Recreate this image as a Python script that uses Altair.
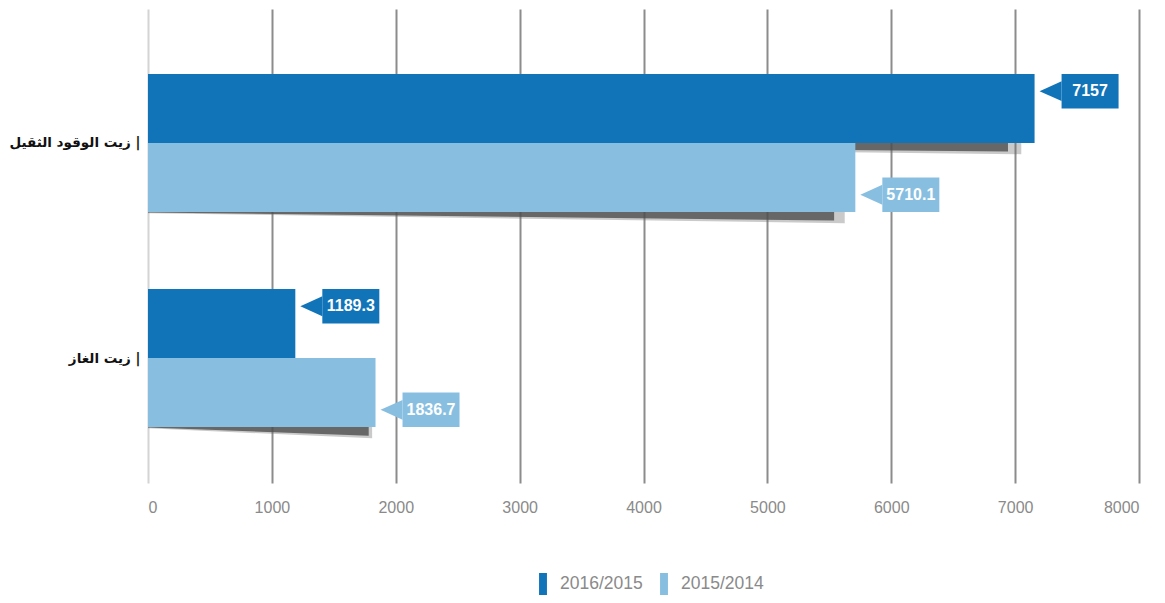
import altair as alt
import pandas as pd

categories = ["زيت الوقود الثقيل", "زيت الغاز"]
series = ["2016/2015", "2015/2014"]
values_2016_2015 = [7157, 1189.3]
values_2015_2014 = [5710.1, 1836.7]
labels_2016_2015 = ["7157", "1189.3"]
labels_2015_2014 = ["5710.1", "1836.7"]
x_ticks = [0, 1000, 2000, 3000, 4000, 5000, 6000, 7000, 8000]
colors = ["#1174b9", "#88bfe1"]

T = 0.321  # bar thickness in category-step units
rows = []
shadow_rows = []
for i, cat in enumerate(categories):
    for j, (s, vals, labs) in enumerate(
        zip(series, [values_2016_2015, values_2015_2014], [labels_2016_2015, labels_2015_2014])
    ):
        top = i - T + j * T
        bot = top + T
        if j == 0:
            bt, bb = top, top + T / 2
        else:
            bt, bb = bot - T / 2, bot
        rows.append(dict(category=cat, series=s, value=vals[i], label=labs[i],
                         top=top, bot=bot, box_top=bt, box_bot=bb, box_mid=(bt + bb) / 2))
        sid = f"{i}-{j}"
        # soft outer halo
        shadow_rows.append(dict(sid=sid, layer="soft", x=0, y=bot, y2=bot + 0.006))
        shadow_rows.append(dict(sid=sid, layer="soft", x=vals[i] * 0.985, y=bot, y2=bot + 0.052))
        # core shadow
        shadow_rows.append(dict(sid=sid, layer="core", x=0, y=bot, y2=bot + 0.002))
        shadow_rows.append(dict(sid=sid, layer="core", x=vals[i] * 0.97, y=bot, y2=bot + 0.040))

df = pd.DataFrame(rows)
sh = pd.DataFrame(shadow_rows)

label_expr = " : ".join(
    [f"datum.value == {i} ? '{c} |'" for i, c in enumerate(categories)]
) + " : ''"

yscale = alt.Scale(domain=[-0.623, 1.581], reverse=True, nice=False, zero=False)
xscale = alt.Scale(domain=[0, 8000], nice=False)
cscale = alt.Scale(domain=series, range=colors)

xaxis = alt.Axis(
    values=x_ticks, title=None, grid=True, domain=False, ticks=False,
    gridColor={"condition": {"test": "datum.value === 0", "value": "#d4d4d4"}, "value": "#8c8c8c"},
    gridWidth=2, labelColor="#8a8a8a", labelFontSize=16, labelFont="Liberation Sans",
    labelPadding=16, format="d",
)
yaxis = alt.Axis(
    values=[0, 1], labelExpr=label_expr, title=None, grid=False, domain=False, ticks=False,
    labelFont="DejaVu Sans", labelFontWeight="bold", labelFontSize=13.5, labelColor="#111111",
    labelPadding=8,
)

soft = alt.Chart(sh).transform_filter(alt.datum.layer == "soft").mark_area(
    color="#666666", opacity=0.35, orient="vertical"
).encode(
    x=alt.X("x:Q", scale=xscale, axis=xaxis),
    y=alt.Y("y:Q", scale=yscale, axis=yaxis, stack=None),
    y2="y2:Q",
    detail="sid:N",
)

core = alt.Chart(sh).transform_filter(alt.datum.layer == "core").mark_area(
    color="#4d4d4d", opacity=0.8, orient="vertical"
).encode(
    x=alt.X("x:Q", scale=xscale),
    y=alt.Y("y:Q", scale=yscale, stack=None),
    y2="y2:Q",
    detail="sid:N",
)

bars = alt.Chart(df).mark_rect().encode(
    x=alt.X("value:Q", scale=xscale),
    x2=alt.datum(0),
    y=alt.Y("top:Q", scale=yscale),
    y2="bot:Q",
    color=alt.Color(
        "series:N", scale=cscale,
        legend=alt.Legend(
            title=None, orient="none", direction="horizontal", legendX=384, legendY=564,
            symbolType="M-0.36,-1L0.36,-1L0.36,1L-0.36,1Z", symbolSize=484,
            symbolStrokeWidth=0, symbolOpacity=1, labelFontSize=17.5, labelColor="#8a8a8a",
            labelFont="Liberation Sans", columnPadding=10, labelOffset=6,
        ),
    ),
)

boxes = alt.Chart(df).mark_rect(xOffset=27, x2Offset=84).encode(
    x=alt.X("value:Q", scale=xscale),
    x2="value:Q",
    y=alt.Y("box_top:Q", scale=yscale),
    y2="box_bot:Q",
    color=alt.Color("series:N", scale=cscale, legend=None),
)

arrows = alt.Chart(df).mark_point(
    shape="M-1,0L1,-0.9L1,0.9Z", filled=True, size=484, opacity=1, strokeWidth=0, xOffset=16
).encode(
    x=alt.X("value:Q", scale=xscale),
    y=alt.Y("box_mid:Q", scale=yscale),
    color=alt.Color("series:N", scale=cscale, legend=None),
)

texts = alt.Chart(df).mark_text(
    xOffset=55.5, align="center", baseline="middle", font="Liberation Sans",
    fontWeight="bold", fontSize=16, color="white",
).encode(
    x=alt.X("value:Q", scale=xscale),
    y=alt.Y("box_mid:Q", scale=yscale),
    text="label:N",
)

chart = alt.layer(soft, core, bars, boxes, arrows, texts).properties(
    width=991, height=474,
    padding={"left": 0, "right": 5, "top": 1, "bottom": 0},
).configure_view(stroke=None)

chart.save("out.html", embed_options={"renderer": "svg", "actions": False})
